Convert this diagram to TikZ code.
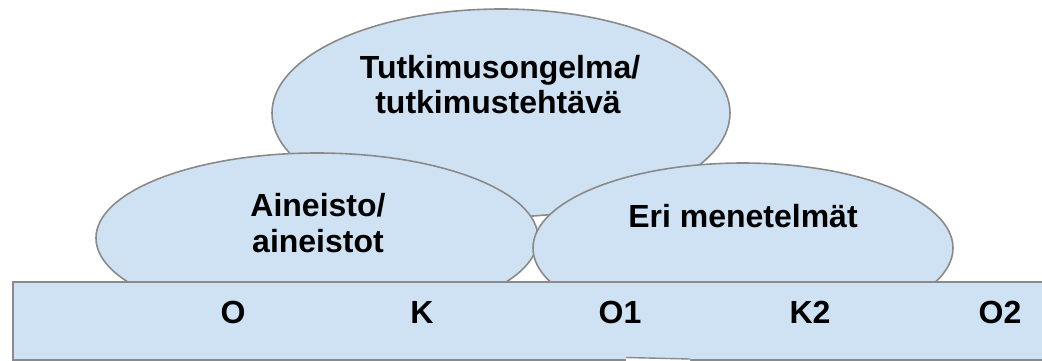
\documentclass[tikz,border=0pt]{standalone}
\usepackage{fontspec}
\setmainfont{Liberation Sans}
\usetikzlibrary{shapes.geometric}
\definecolor{bubblefill}{RGB}{207,226,243}
\definecolor{bubbleline}{RGB}{138,138,138}
\tikzset{
  bubble/.style={ellipse, draw=bubbleline, fill=bubblefill, line width=1.6pt, inner sep=0pt},
  band/.style={rectangle, draw=bubbleline, fill=bubblefill, line width=1.6pt, inner sep=0pt, anchor=north west},
  txt/.style={anchor=base, inner sep=0pt, font=\fontsize{32}{35}\selectfont\bfseries},
}
\begin{document}
\begin{tikzpicture}[x=1pt, y=-1pt]
  \useasboundingbox (0,0) rectangle (1042,360);
  % research problem
  \node[bubble, minimum width=458pt, minimum height=208pt] (problem) at (501,113) {};
  % data
  \node[bubble, minimum width=442pt, minimum height=170pt] (data) at (317,238) {};
  % methods
  \node[bubble, minimum width=420pt, minimum height=170pt] (methods) at (743,248) {};
  % observation / comparison band
  \node[band, minimum width=1040pt, minimum height=78pt] (band) at (12,281) {};
  % edge of a shape continuing below the band
  \fill[white] (626,357.5) -- (690,359) -- (690,362) -- (626,362) -- cycle;
  \draw[bubbleline, line width=1.4pt] (626,357.5) -- (690,359);

  \node[txt] (problemA) at (500,78) {Tutkimusongelma/};
  \node[txt] (problemB) at (498,113) {tutkimustehtävä};
  \node[txt] (dataA) at (318,216) {Aineisto/};
  \node[txt] (dataB) at (318,252) {aineistot};
  \node[txt] (methodsA) at (743,227) {Eri menetelmät};

  \node[txt] (o) at (233,323) {O};
  \node[txt] (k) at (422,323) {K};
  \node[txt] (o1) at (620,323) {O1};
  \node[txt] (k2) at (810,323) {K2};
  \node[txt] (o2) at (1000,323) {O2};
\end{tikzpicture}
\end{document}
